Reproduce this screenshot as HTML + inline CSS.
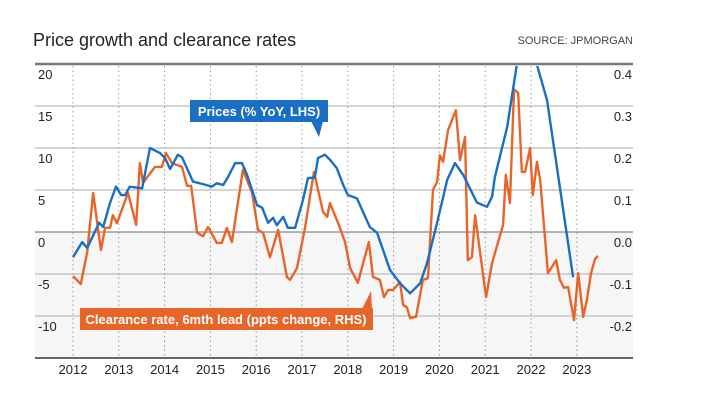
<!DOCTYPE html>
<html><head><meta charset="utf-8"><style>
body{margin:0;background:#fff;width:709px;height:418px;overflow:hidden;font-family:"Liberation Sans",sans-serif}
</style></head><body>
<svg id="c" width="709" height="418" style="position:absolute;left:0;top:0"></svg>
<script>
const years=[2012,2013,2014,2015,2016,2017,2018,2019,2020,2021,2022,2023];
const leftTicks=[20,15,10,5,0,-5,-10];
const rightTicks=["0.4","0.3","0.2","0.1","0.0","-0.1","-0.2"];
const priceT=[0,.2,.31,.44,.57,.66,.81,.94,1.05,1.14,1.24,1.51,1.68,1.9,2.01,2.12,2.29,2.38,2.62,2.84,3.03,3.14,3.28,3.38,3.54,3.69,3.8,4.02,4.13,4.26,4.37,4.45,4.59,4.69,4.85,5.02,5.13,5.28,5.35,5.5,5.61,5.76,5.9,6.0,6.2,6.48,6.64,6.92,7.14,7.36,7.58,7.73,7.95,8.17,8.34,8.52,8.82,9.04,9.15,9.21,9.48,9.69,9.91,10.13,10.35,10.92];
const priceV=[-3.0,-1.2,-1.9,-0.4,1.1,0.6,3.5,5.4,4.4,4.4,5.4,5.2,10.0,9.4,8.8,7.5,9.2,8.9,6.0,5.7,5.4,5.8,5.6,6.5,8.2,8.2,6.8,3.2,2.9,1.1,1.7,0.8,1.8,0.5,0.5,3.8,6.4,6.5,8.8,9.2,8.6,7.6,5.6,4.4,4.0,0.6,-0.1,-4.5,-6.1,-7.3,-6.1,-3.7,1.1,6.2,8.2,6.8,3.5,3.0,4.2,6.5,12.5,19.9,25,19.9,15.7,-5.4];
const clearT=[0,.17,.31,.44,.61,.7,.81,.87,.96,1.2,1.38,1.46,1.53,1.79,1.94,2.03,2.16,2.38,2.49,2.58,2.71,2.84,2.95,3.14,3.25,3.36,3.47,3.71,3.91,4.04,4.15,4.3,4.48,4.67,4.74,4.89,5.07,5.26,5.46,5.55,5.61,5.79,5.94,6.05,6.22,6.46,6.55,6.7,6.79,6.88,6.99,7.14,7.21,7.29,7.36,7.49,7.64,7.75,7.86,7.95,8.01,8.08,8.19,8.36,8.45,8.56,8.62,8.71,8.78,8.89,9.02,9.15,9.39,9.45,9.54,9.63,9.72,9.8,9.87,9.98,10.04,10.13,10.2,10.37,10.55,10.63,10.72,10.81,10.94,11.03,11.14,11.22,11.31,11.4,11.46];
const clearV=[-.105,-.124,-.048,.093,-.043,.01,.01,.04,.021,.093,.017,.164,.117,.155,.155,.188,.164,.155,.11,.11,-.002,-.01,.012,-.026,-.026,.01,-.024,.148,.093,.005,-.002,-.06,.005,-.107,-.114,-.086,.012,.143,.048,.036,.069,.021,-.024,-.086,-.121,-.024,-.107,-.114,-.155,-.138,-.138,-.119,-.174,-.179,-.205,-.202,-.114,-.11,.1,.119,.183,.167,.243,.29,.171,.226,-.067,-.06,.04,-.05,-.155,-.074,.017,.136,.069,.34,.331,.143,.143,.2,.088,.167,.124,-.098,-.067,-.114,-.133,-.131,-.21,-.098,-.202,-.162,-.098,-.064,-.057];

const NS="http://www.w3.org/2000/svg";
const svg=document.getElementById('c');
const X0=73,XS=45.8,Y0=232,PY=8.4,RY=420;
const x=t=>X0+t*XS;
const yL=v=>Y0-v*PY;
const yR=v=>Y0-v*RY;
function mk(tag,attrs,parent){const e=document.createElementNS(NS,tag);for(const k in attrs)e.setAttribute(k,attrs[k]);(parent||svg).appendChild(e);return e;}

let t=mk('text',{x:33,y:46,'font-size':18,fill:'#222'});


t.textContent='Price growth and clearance rates';
t=mk('text',{x:633,y:44,'font-size':11,fill:'#444','text-anchor':'end'});


t.textContent='SOURCE: JPMORGAN';

let bg=mk('rect',{x:35,y:yL(0),width:598,height:358-yL(0),fill:'#f6f6f6'});



leftTicks.forEach((v,i)=>{
  const yy=yL(v);
  const g=mk('line',{x1:35,x2:633,y1:yy,y2:yy,stroke:i===0?'#777':(v===0?'#888':'#bbb'),'stroke-width':i===0?2.5:1.3});
  
  
  const l=mk('text',{x:38,y:yy+15,'font-size':13,fill:'#222'});
  
  
  l.textContent=v;
  const r=mk('text',{x:632,y:yy+15,'font-size':13,fill:'#222','text-anchor':'end'});
  
  
  r.textContent=rightTicks[i];
});
let ax=mk('line',{x1:35,x2:633,y1:358,y2:358,stroke:'#666','stroke-width':2});



years.forEach((yr,i)=>{
  const xx=x(i);
  const d=mk('line',{x1:xx,x2:xx,y1:66,y2:357,stroke:'#999','stroke-width':1,'stroke-dasharray':'1.5,3'});
  
  
  const l=mk('text',{x:xx,y:374,'font-size':13,fill:'#222','text-anchor':'middle'});
  
  
  l.textContent=yr;
});

const cp=mk('clipPath',{id:'clip'});
mk('rect',{x:35,y:66,width:598,height:292},cp);

let pc=clearT.map((tt,i)=>x(tt)+','+yR(clearV[i])).join(' ');
let o=mk('polyline',{points:pc,fill:'none',stroke:'#e8652a','stroke-width':2.4,'stroke-linejoin':'round','clip-path':'url(#clip)'});


let pp=priceT.map((tt,i)=>x(tt)+','+yL(priceV[i])).join(' ');
let b=mk('polyline',{points:pp,fill:'none',stroke:'#1a6fc2','stroke-width':2.4,'stroke-linejoin':'round','clip-path':'url(#clip)'});



let bl=mk('g',{});


mk('rect',{x:190,y:100,width:138,height:22,fill:'#1a6fc2'},bl);
mk('polygon',{points:'311,121 323,121 319,137',fill:'#1a6fc2'},bl);
t=mk('text',{x:259,y:116,'font-size':13,'font-weight':'bold',fill:'#fff','text-anchor':'middle'},bl);
t.textContent='Prices (% YoY, LHS)';

let ol=mk('g',{});


mk('rect',{x:80,y:308,width:293,height:22,fill:'#e8652a'},ol);
mk('polygon',{points:'362,309 372,309 371,291',fill:'#e8652a'},ol);
t=mk('text',{x:226,y:324,'font-size':13,'font-weight':'bold',fill:'#fff','text-anchor':'middle'},ol);
t.textContent='Clearance rate, 6mth lead (ppts change, RHS)';
</script>
</body></html>
